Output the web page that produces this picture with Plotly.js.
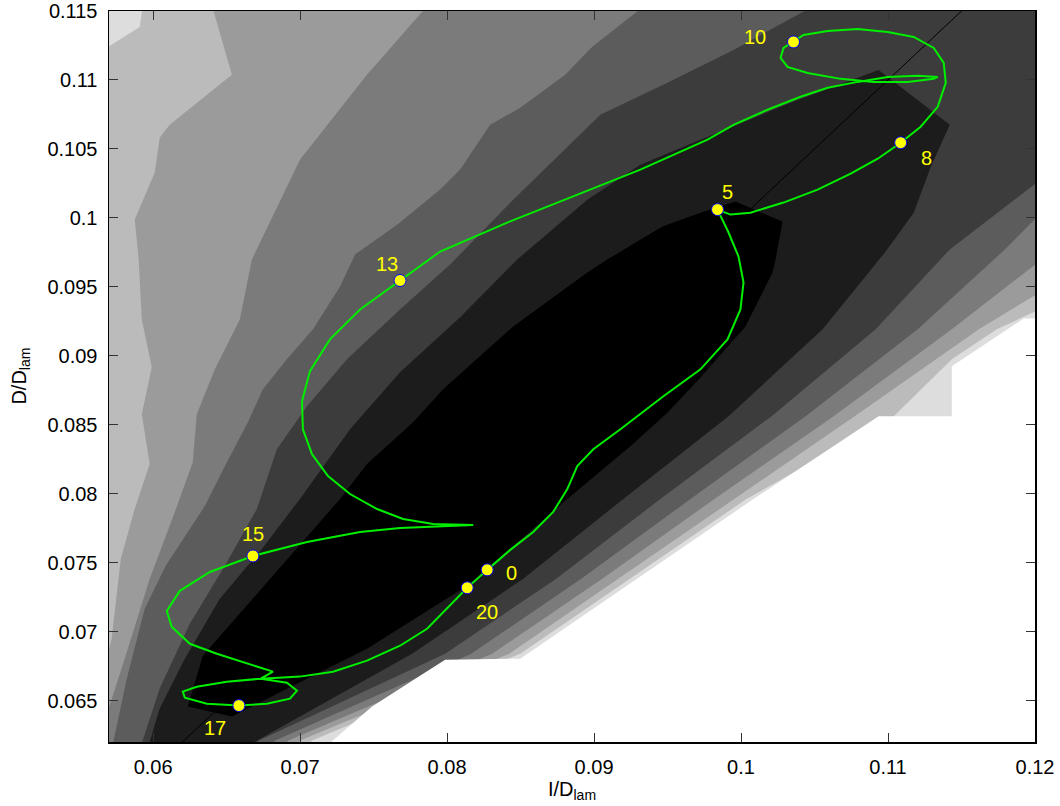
<!DOCTYPE html>
<html><head><meta charset="utf-8">
<script src="https://cdn.plot.ly/plotly-3.0.1.min.js"></script>
<style>html,body{margin:0;padding:0;background:#fff}</style>
</head><body><div id="chart" style="width:1060px;height:806px"></div>
<script>
// ---- axis ticks ----
const xTickVals = [0.06,0.07,0.08,0.09,0.10,0.11,0.12];
const xTickText = ['0.06','0.07','0.08','0.09','0.1','0.11','0.12'];
const yTickVals = [0.065,0.070,0.075,0.080,0.085,0.090,0.095,0.100,0.105,0.110,0.115];
const yTickText = ['0.065','0.07','0.075','0.08','0.085','0.09','0.095','0.1','0.105','0.11','0.115'];

// ---- filled-contour level boundaries (upper-left edge U, lower-right edge L) ----
const u7x = [0.05930,0.05909,0.05671];
const u7y = [0.11543,0.11384,0.11225];
const l7x = [0.12176,0.11740,0.11434,0.11039,0.10037,0.09247,0.08498,0.07081,0.06999];
const l7y = [0.09409,0.09192,0.08975,0.08562,0.07962,0.07383,0.06840,0.06211,0.06080];

const u6x = [0.06400,0.06536,0.06113,0.06045,0.06011,0.05875,0.05902,0.05923,0.05991,0.05923,0.05977,0.05875,0.05780,0.05718,0.05664];
const u6y = [0.11543,0.11037,0.10675,0.10581,0.10328,0.09988,0.09698,0.09264,0.08917,0.08577,0.08215,0.07889,0.07527,0.06949,0.06717];
const l6x = [0.12176,0.11618,0.10773,0.09949,0.09165,0.08423,0.07000,0.06920];
const l6y = [0.09554,0.09192,0.08562,0.07962,0.07383,0.06840,0.06211,0.06080];

const u5x = [0.07871,0.07455,0.06999,0.06672,0.06590,0.06420,0.06297,0.06270,0.06148,0.05977,0.05807,0.05664];
const u5y = [0.11543,0.11037,0.10422,0.09698,0.09264,0.08902,0.08577,0.08229,0.07868,0.07383,0.06804,0.06334];
const l5x = [0.12176,0.11434,0.10630,0.09819,0.09056,0.08307,0.06920,0.06840];
const l5y = [0.09807,0.09192,0.08562,0.07962,0.07383,0.06840,0.06211,0.06080];

const u4x = [0.09349,0.08988,0.08804,0.08498,0.08293,0.08089,0.07953,0.07660,0.07374,0.07272,0.07088,0.06910,0.06747,0.06645,0.06488,0.06352,0.06086,0.05943,0.05821,0.05705];
const u4y = [0.11543,0.11240,0.11037,0.10798,0.10675,0.10350,0.10205,0.09951,0.09734,0.09503,0.09192,0.08975,0.08758,0.08519,0.08200,0.07911,0.07477,0.07166,0.06659,0.06080];
const l4x = [0.12108,0.11795,0.11202,0.10439,0.09656,0.08913,0.08164,0.06830,0.06750];
const l4y = [0.10107,0.09771,0.09192,0.08562,0.07962,0.07383,0.06840,0.06211,0.06080];

const u3x = [0.10507,0.09949,0.09499,0.09043,0.08450,0.08021,0.07680,0.07319,0.07047,0.06842,0.06706,0.06488,0.06250,0.06045,0.05889];
const u3y = [0.11543,0.11218,0.10979,0.10748,0.10132,0.09662,0.09336,0.08975,0.08635,0.08323,0.07889,0.07477,0.07057,0.06587,0.06080];
const l3x = [0.12108,0.11420,0.10916,0.10208,0.09451,0.08743,0.07987,0.06720,0.06630];
const l3y = [0.10335,0.09771,0.09192,0.08562,0.07962,0.07383,0.06840,0.06211,0.06080];

const u2x = [0.10936,0.10337,0.09724,0.09315,0.08954,0.08477,0.08089,0.07680,0.07340,0.06999,0.06740,0.06454,0.06216,0.06045,0.05943];
const u2y = [0.11073,0.10834,0.10567,0.10386,0.10132,0.09698,0.09279,0.08881,0.08468,0.07962,0.07600,0.07238,0.06804,0.06442,0.06080];
const l2x = [0.10936,0.11420,0.11291,0.11175,0.10984,0.10555,0.09915,0.09199,0.08518,0.07762,0.06999,0.06488];
const l2y = [0.11073,0.10675,0.10371,0.10038,0.09756,0.09192,0.08562,0.07962,0.07383,0.06840,0.06384,0.06080];

const u1x = [0.10282,0.09962,0.09724,0.09465,0.09090,0.08954,0.08450,0.07973,0.07769,0.07455,0.07272,0.06795,0.06338,0.06236];
const u1y = [0.09973,0.10118,0.10038,0.09937,0.09698,0.09604,0.09213,0.08758,0.08519,0.08215,0.07962,0.07383,0.06826,0.06457];
const l1x = [0.10282,0.10235,0.10214,0.10030,0.09724,0.09499,0.09247,0.08818,0.08137,0.07455,0.06951,0.06536,0.06236];
const l1y = [0.09973,0.09698,0.09604,0.09213,0.08843,0.08588,0.08345,0.07962,0.07332,0.06876,0.06608,0.06384,0.06457];

// edge of the region with no data (left blank)
const nanEdgeX = [0.12176,0.11924,0.11434,0.11434,0.10936,0.10085,0.08498,0.07987,0.07816,0.07490,0.07081];
const nanEdgeY = [0.09271,0.09271,0.08924,0.08562,0.08562,0.07962,0.06804,0.06797,0.06681,0.06457,0.06080];

// identity line D = I
const diagX = [0.055,0.125];
const diagY = [0.055,0.125];

// ---- trajectory ----
const pathX = [0.08273,0.08430,0.08586,0.08722,0.08818,0.08886,0.08995,0.09179,0.09472,0.09724,0.09908,0.09996,0.10017,0.09983,0.09915,0.09840,
0.09928,0.10064,0.10289,0.10521,0.10746,0.10930,0.11086,
0.11222,0.11338,0.11393,0.11379,0.11311,0.11175,0.10998,0.10793,0.10589,0.10425,0.10357,
0.10289,0.10269,0.10316,0.10453,0.10678,0.10902,0.11134,0.11311,0.11338,
0.11202,0.10998,0.10793,0.10589,0.10405,0.10180,0.09949,0.09772,0.09315,0.08859,0.08409,0.07953,0.07680,
0.07408,0.07203,0.07067,0.07013,0.07019,0.07081,0.07190,0.07340,0.07524,0.07701,0.07905,0.08178,
0.07905,0.07680,0.07408,0.07047,0.06679,
0.06386,0.06182,0.06093,0.06127,0.06250,0.06434,0.06638,0.06815,
0.06733,0.06910,0.06979,0.06931,0.06774,0.06584,
0.06366,0.06216,0.06202,0.06297,0.06502,0.06733,
0.06999,0.07224,0.07455,0.07680,0.07864,0.08000,0.08137,0.08273];
const pathY = [0.07448,0.07593,0.07723,0.07868,0.08034,0.08200,0.08323,0.08468,0.08707,0.08902,0.09119,0.09336,0.09532,0.09720,0.09894,0.10060,
0.10024,0.10038,0.10111,0.10205,0.10321,0.10429,0.10545,
0.10661,0.10805,0.10979,0.11124,0.11232,0.11312,0.11348,0.11370,0.11355,0.11326,0.11276,
0.11232,0.11160,0.11095,0.11051,0.11008,0.10986,0.10986,0.11008,0.11022,
0.11030,0.11022,0.10986,0.10943,0.10878,0.10784,0.10675,0.10567,0.10350,0.10154,0.09966,0.09756,0.09546,
0.09336,0.09119,0.08888,0.08671,0.08468,0.08287,0.08128,0.07998,0.07889,0.07817,0.07781,0.07774,
0.07759,0.07752,0.07723,0.07650,0.07549,
0.07433,0.07296,0.07151,0.07035,0.06912,0.06840,0.06768,0.06710,
0.06659,0.06630,0.06572,0.06514,0.06478,0.06464,
0.06478,0.06522,0.06565,0.06601,0.06637,0.06659,
0.06674,0.06710,0.06790,0.06898,0.07021,0.07166,0.07318,0.07448];

// ---- labelled time marks ----
const markLabel = ['0','5','8','10','13','15','17','20'];
const markX = [0.08273,0.09840,0.11086,0.10357,0.07680,0.06679,0.06584,0.08137];
const markY = [0.07448,0.10060,0.10545,0.11276,0.09546,0.07549,0.06464,0.07318];

// ---------------- drawing ----------------
const FONT = 'Liberation Sans, Arial, Helvetica, sans-serif';
const bandColors = ['#000000','#1c1c1c','#3c3c3c','#5c5c5c','#7b7b7b','#9b9b9b','#bbbbbb','#dddddd'];
const farLeftBottom = [0.045, 0.050];
const farRightTop = [0.135, 0.130];

function openBand(ux, uy, lx, ly, color) {
  const x = ux.concat([farLeftBottom[0]], lx.slice().reverse(), [farRightTop[0]]);
  const y = uy.concat([farLeftBottom[1]], ly.slice().reverse(), [farRightTop[1]]);
  return {type:'scatter', mode:'lines', x, y, fill:'toself', fillcolor:color,
          line:{width:0, color:color}, hoverinfo:'skip', showlegend:false};
}
function closedBand(ux, uy, lx, ly, color) {
  const x = ux.concat(lx.slice().reverse());
  const y = uy.concat(ly.slice().reverse());
  return {type:'scatter', mode:'lines', x, y, fill:'toself', fillcolor:color,
          line:{width:0, color:color}, hoverinfo:'skip', showlegend:false};
}

const traces = [
  openBand(u7x,u7y,l7x,l7y,bandColors[6]),
  openBand(u6x,u6y,l6x,l6y,bandColors[5]),
  openBand(u5x,u5y,l5x,l5y,bandColors[4]),
  openBand(u4x,u4y,l4x,l4y,bandColors[3]),
  openBand(u3x,u3y,l3x,l3y,bandColors[2]),
  closedBand(u2x,u2y,l2x,l2y,bandColors[1]),
  closedBand(u1x,u1y,l1x,l1y,bandColors[0]),
  {type:'scatter', mode:'lines', x: nanEdgeX.concat([0.135,0.135]), y: nanEdgeY.concat([0.050,0.0927]),
   fill:'toself', fillcolor:'#ffffff', line:{width:0,color:'#ffffff'}, hoverinfo:'skip', showlegend:false},
  {type:'scatter', mode:'lines', x: diagX, y: diagY, line:{color:'#000000', width:1}, hoverinfo:'skip', showlegend:false},
  {type:'scatter', mode:'lines', x: pathX, y: pathY, line:{color:'#00ee00', width:2}, showlegend:false},
  {type:'scatter', mode:'markers', x: markX, y: markY, text: markLabel,
   marker:{size:12, color:'#ffff00', line:{color:'#0000ff', width:1}}, showlegend:false}
];

const labelShift = [[24,-3],[10,18],[26,-15],[-39,5],[-13,17],[0,22],[-24,-22],[20,-24]];
const annotations = markLabel.map((t,i) => ({
  x: markX[i], y: markY[i], xref:'x', yref:'y', text: t, showarrow:false,
  xshift: labelShift[i][0], yshift: labelShift[i][1],
  font:{family:FONT, size:20, color:'#ffff00'}
}));
annotations.push({
  xref:'paper', yref:'paper', x: -0.096, y: 0.5, text:'D/D<sub>lam</sub>', textangle:-90,
  showarrow:false, xanchor:'center', yanchor:'middle', font:{family:FONT, size:20, color:'#000'}
});

const axisCommon = {
  ticks:'inside', ticklen:9, tickwidth:1, tickcolor:'#333333',
  showline:true, linecolor:'#000000', linewidth:1.5, mirror:'ticks',
  showgrid:false, zeroline:false, tickfont:{family:FONT, size:20, color:'#000'}
};

const layout = {
  width:1060, height:806,
  margin:{l:109, r:25, t:11, b:64, pad:0},
  paper_bgcolor:'#ffffff', plot_bgcolor:bandColors[7],
  showlegend:false,
  font:{family:FONT, size:20, color:'#000'},
  xaxis: Object.assign({}, axisCommon, {
    range:[0.057,0.12], tickmode:'array', tickvals:xTickVals, ticktext:xTickText,
    ticklabelstandoff:6,
    title:{text:'I/D<sub>lam</sub>', font:{family:FONT, size:20, color:'#000'}, standoff:2}
  }),
  yaxis: Object.assign({}, axisCommon, {
    range:[0.062,0.115], tickmode:'array', tickvals:yTickVals, ticktext:yTickText,
    ticklabelstandoff:6
  }),
  annotations
};

Plotly.newPlot('chart', traces, layout, {displayModeBar:false, staticPlot:true});
</script></body></html>
